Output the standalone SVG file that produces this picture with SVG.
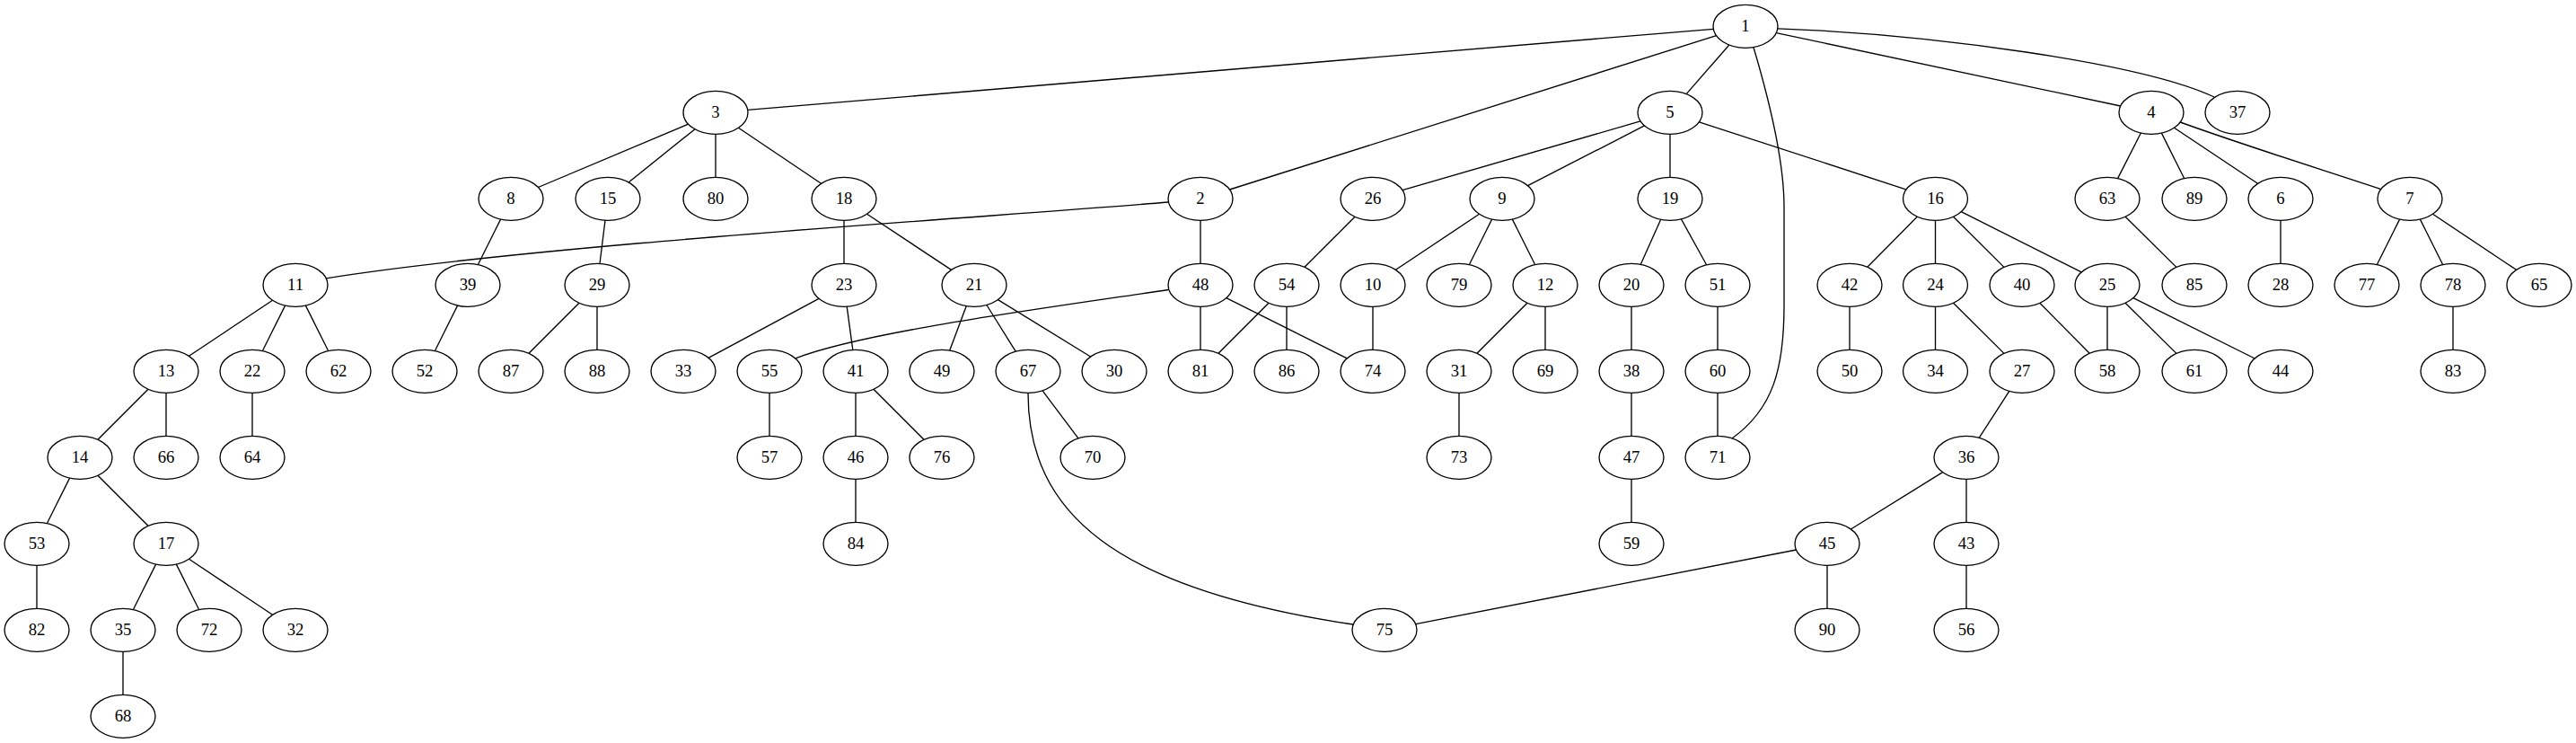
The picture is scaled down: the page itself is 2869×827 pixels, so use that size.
<svg xmlns="http://www.w3.org/2000/svg" width="2869" height="827" viewBox="0 0 2869 827">
<style>
.n ellipse{fill:none;stroke:#000;stroke-width:1.33}
.n text{font-family:"Liberation Serif","Times New Roman",serif;font-size:18.67px;text-anchor:middle;fill:#000}
.e path{fill:none;stroke:#000;stroke-width:1.33}
</style>
<rect width="2869" height="827" fill="#fff"/>
<g id="edges" class="e">
<path d="M1925.9,50 L1878.1,104.6"/>
<path d="M1978.3,36.6 L2361.7,118"/>
<path d="M1908.3,32.3 L832.7,122.3"/>
<path d="M1911.5,39.6 L1369.5,211"/>
<path d="M1979.8,31.8 C2150,38 2385,70 2466,108"/>
<path d="M1953,52.8 C1970,110 1987,180 1987,230 L1987,340 C1987,410 1975,455 1929,488"/>
<path d="M766.6,138.1 L599.4,208.5"/>
<path d="M774,143.7 L700.1,202.9"/>
<path d="M797,149.3 L797,197.3"/>
<path d="M822.4,142.3 L914.6,204.3"/>
<path d="M1827,134.9 L1562,211.7"/>
<path d="M1831.5,139.9 L1701.5,206.7"/>
<path d="M1860,149.3 L1860,197.3"/>
<path d="M1892.4,135.8 L2122.7,210.8"/>
<path d="M2384.4,148 L2358.6,198.6"/>
<path d="M2407.4,148.1 L2432.6,198.5"/>
<path d="M2421.5,142.3 L2514.5,204.3"/>
<path d="M2428.2,136 C2500,162 2590,190 2651.8,210.6"/>
<path d="M557.6,244.1 L532.4,294.5"/>
<path d="M674,245.2 L668,293.4"/>
<path d="M940,245.3 L940,293.3"/>
<path d="M965.6,238.2 L1059.5,300.4"/>
<path d="M1301.2,225 C1100,242 600,272 363,309.8"/>
<path d="M1337,245.3 L1337,293.3"/>
<path d="M1509,241.3 L1453,297.3"/>
<path d="M1647.5,238.3 L1554.5,300.3"/>
<path d="M1661.6,244.1 L1636.4,294.5"/>
<path d="M1684.4,244.1 L1709.6,294.5"/>
<path d="M1849.7,244.3 L1827.3,294.3"/>
<path d="M1872.4,243.8 L1900.6,294.8"/>
<path d="M2135.2,241.3 L2079.8,297.3"/>
<path d="M2155.5,245.3 L2155.5,293.3"/>
<path d="M2175.5,241.2 L2232,297.4"/>
<path d="M2184.3,235.7 L2318.2,302.9"/>
<path d="M2367.1,241.2 L2423.9,297.4"/>
<path d="M2540,245.3 L2540,293.3"/>
<path d="M2672.6,244.1 L2647.4,294.5"/>
<path d="M2695.4,244.1 L2720.6,294.5"/>
<path d="M2709.5,238.3 L2802.5,300.3"/>
<path d="M303.5,334.3 L210.5,396.3"/>
<path d="M317.6,340.1 L292.4,390.5"/>
<path d="M340.4,340.1 L365.6,390.5"/>
<path d="M509.6,340.1 L484.4,390.5"/>
<path d="M645,337.3 L589,393.3"/>
<path d="M665,341.3 L665,389.3"/>
<path d="M912,332.3 L789,398.3"/>
<path d="M943.2,341.2 L949.8,389.4"/>
<path d="M1076.3,340.6 L1057.7,390"/>
<path d="M1098.9,339.5 L1131.2,391.2"/>
<path d="M1111.5,333.6 L1214.6,397"/>
<path d="M1301.5,322.5 C1150,345 960,370 886,398.8"/>
<path d="M1337,341.3 L1337,389.3"/>
<path d="M1365.8,331.7 L1500.2,398.9"/>
<path d="M1413,337.3 L1357,393.3"/>
<path d="M1433,341.3 L1433,389.3"/>
<path d="M1529,341.3 L1529,389.3"/>
<path d="M1701,337.3 L1645,393.3"/>
<path d="M1721,341.3 L1721,389.3"/>
<path d="M1817,341.3 L1817,389.3"/>
<path d="M1913,341.3 L1913,389.3"/>
<path d="M2060,341.3 L2060,389.3"/>
<path d="M2155.5,341.3 L2155.5,389.3"/>
<path d="M2175.5,337.2 L2232,393.4"/>
<path d="M2271.8,337.3 L2327.2,393.3"/>
<path d="M2347,341.3 L2347,389.3"/>
<path d="M2367.1,337.2 L2423.9,393.4"/>
<path d="M2375.9,331.7 L2511.2,399"/>
<path d="M2732,341.3 L2732,389.3"/>
<path d="M165,433.3 L109,489.3"/>
<path d="M185,437.3 L185,485.3"/>
<path d="M281,437.3 L281,485.3"/>
<path d="M857,437.3 L857,485.3"/>
<path d="M953,437.3 L953,485.3"/>
<path d="M973,433.3 L1029,489.3"/>
<path d="M1161.1,434.8 L1200.9,487.8"/>
<path d="M1145,437.3 C1145,570 1240,655 1507,695"/>
<path d="M1625,437.3 L1625,485.3"/>
<path d="M1817,437.3 L1817,485.3"/>
<path d="M1913,437.3 L1913,485.3"/>
<path d="M2237.8,435.3 L2204.2,487.3"/>
<path d="M77.6,532.1 L52.4,582.5"/>
<path d="M109,529.3 L165,585.3"/>
<path d="M953,533.3 L953,581.3"/>
<path d="M1817,533.3 L1817,581.3"/>
<path d="M2163.6,525.6 L2061.4,589"/>
<path d="M2190,533.3 L2190,581.3"/>
<path d="M41,629.3 L41,677.3"/>
<path d="M173.6,628.1 L148.4,678.5"/>
<path d="M196.4,628.1 L221.6,678.5"/>
<path d="M210.5,622.3 L303.5,684.3"/>
<path d="M2000.5,612 L1576.6,694.6"/>
<path d="M2035,629.3 L2035,677.3"/>
<path d="M2190,629.3 L2190,677.3"/>
<path d="M137,725.3 L137,773.3"/>
</g>
<g id="n1" class="n"><ellipse cx="1944" cy="29.3" rx="36" ry="24"/><text x="1944" y="35.3">1</text></g>
<g id="n3" class="n"><ellipse cx="797" cy="125.3" rx="36" ry="24"/><text x="797" y="131.3">3</text></g>
<g id="n5" class="n"><ellipse cx="1860" cy="125.3" rx="36" ry="24"/><text x="1860" y="131.3">5</text></g>
<g id="n4" class="n"><ellipse cx="2396" cy="125.3" rx="36" ry="24"/><text x="2396" y="131.3">4</text></g>
<g id="n37" class="n"><ellipse cx="2492" cy="125.3" rx="36" ry="24"/><text x="2492" y="131.3">37</text></g>
<g id="n8" class="n"><ellipse cx="569" cy="221.3" rx="36" ry="24"/><text x="569" y="227.3">8</text></g>
<g id="n15" class="n"><ellipse cx="677" cy="221.3" rx="36" ry="24"/><text x="677" y="227.3">15</text></g>
<g id="n80" class="n"><ellipse cx="797" cy="221.3" rx="36" ry="24"/><text x="797" y="227.3">80</text></g>
<g id="n18" class="n"><ellipse cx="940" cy="221.3" rx="36" ry="24"/><text x="940" y="227.3">18</text></g>
<g id="n2" class="n"><ellipse cx="1337" cy="221.3" rx="36" ry="24"/><text x="1337" y="227.3">2</text></g>
<g id="n26" class="n"><ellipse cx="1529" cy="221.3" rx="36" ry="24"/><text x="1529" y="227.3">26</text></g>
<g id="n9" class="n"><ellipse cx="1673" cy="221.3" rx="36" ry="24"/><text x="1673" y="227.3">9</text></g>
<g id="n19" class="n"><ellipse cx="1860" cy="221.3" rx="36" ry="24"/><text x="1860" y="227.3">19</text></g>
<g id="n16" class="n"><ellipse cx="2155.5" cy="221.3" rx="36" ry="24"/><text x="2155.5" y="227.3">16</text></g>
<g id="n63" class="n"><ellipse cx="2347" cy="221.3" rx="36" ry="24"/><text x="2347" y="227.3">63</text></g>
<g id="n89" class="n"><ellipse cx="2444" cy="221.3" rx="36" ry="24"/><text x="2444" y="227.3">89</text></g>
<g id="n6" class="n"><ellipse cx="2540" cy="221.3" rx="36" ry="24"/><text x="2540" y="227.3">6</text></g>
<g id="n7" class="n"><ellipse cx="2684" cy="221.3" rx="36" ry="24"/><text x="2684" y="227.3">7</text></g>
<g id="n11" class="n"><ellipse cx="329" cy="317.3" rx="36" ry="24"/><text x="329" y="323.3">11</text></g>
<g id="n39" class="n"><ellipse cx="521" cy="317.3" rx="36" ry="24"/><text x="521" y="323.3">39</text></g>
<g id="n29" class="n"><ellipse cx="665" cy="317.3" rx="36" ry="24"/><text x="665" y="323.3">29</text></g>
<g id="n23" class="n"><ellipse cx="940" cy="317.3" rx="36" ry="24"/><text x="940" y="323.3">23</text></g>
<g id="n21" class="n"><ellipse cx="1085" cy="317.3" rx="36" ry="24"/><text x="1085" y="323.3">21</text></g>
<g id="n48" class="n"><ellipse cx="1337" cy="317.3" rx="36" ry="24"/><text x="1337" y="323.3">48</text></g>
<g id="n54" class="n"><ellipse cx="1433" cy="317.3" rx="36" ry="24"/><text x="1433" y="323.3">54</text></g>
<g id="n10" class="n"><ellipse cx="1529" cy="317.3" rx="36" ry="24"/><text x="1529" y="323.3">10</text></g>
<g id="n79" class="n"><ellipse cx="1625" cy="317.3" rx="36" ry="24"/><text x="1625" y="323.3">79</text></g>
<g id="n12" class="n"><ellipse cx="1721" cy="317.3" rx="36" ry="24"/><text x="1721" y="323.3">12</text></g>
<g id="n20" class="n"><ellipse cx="1817" cy="317.3" rx="36" ry="24"/><text x="1817" y="323.3">20</text></g>
<g id="n51" class="n"><ellipse cx="1913" cy="317.3" rx="36" ry="24"/><text x="1913" y="323.3">51</text></g>
<g id="n42" class="n"><ellipse cx="2060" cy="317.3" rx="36" ry="24"/><text x="2060" y="323.3">42</text></g>
<g id="n24" class="n"><ellipse cx="2155.5" cy="317.3" rx="36" ry="24"/><text x="2155.5" y="323.3">24</text></g>
<g id="n40" class="n"><ellipse cx="2252" cy="317.3" rx="36" ry="24"/><text x="2252" y="323.3">40</text></g>
<g id="n25" class="n"><ellipse cx="2347" cy="317.3" rx="36" ry="24"/><text x="2347" y="323.3">25</text></g>
<g id="n85" class="n"><ellipse cx="2444" cy="317.3" rx="36" ry="24"/><text x="2444" y="323.3">85</text></g>
<g id="n28" class="n"><ellipse cx="2540" cy="317.3" rx="36" ry="24"/><text x="2540" y="323.3">28</text></g>
<g id="n77" class="n"><ellipse cx="2636" cy="317.3" rx="36" ry="24"/><text x="2636" y="323.3">77</text></g>
<g id="n78" class="n"><ellipse cx="2732" cy="317.3" rx="36" ry="24"/><text x="2732" y="323.3">78</text></g>
<g id="n65" class="n"><ellipse cx="2828" cy="317.3" rx="36" ry="24"/><text x="2828" y="323.3">65</text></g>
<g id="n13" class="n"><ellipse cx="185" cy="413.3" rx="36" ry="24"/><text x="185" y="419.3">13</text></g>
<g id="n22" class="n"><ellipse cx="281" cy="413.3" rx="36" ry="24"/><text x="281" y="419.3">22</text></g>
<g id="n62" class="n"><ellipse cx="377" cy="413.3" rx="36" ry="24"/><text x="377" y="419.3">62</text></g>
<g id="n52" class="n"><ellipse cx="473" cy="413.3" rx="36" ry="24"/><text x="473" y="419.3">52</text></g>
<g id="n87" class="n"><ellipse cx="569" cy="413.3" rx="36" ry="24"/><text x="569" y="419.3">87</text></g>
<g id="n88" class="n"><ellipse cx="665" cy="413.3" rx="36" ry="24"/><text x="665" y="419.3">88</text></g>
<g id="n33" class="n"><ellipse cx="761" cy="413.3" rx="36" ry="24"/><text x="761" y="419.3">33</text></g>
<g id="n55" class="n"><ellipse cx="857" cy="413.3" rx="36" ry="24"/><text x="857" y="419.3">55</text></g>
<g id="n41" class="n"><ellipse cx="953" cy="413.3" rx="36" ry="24"/><text x="953" y="419.3">41</text></g>
<g id="n49" class="n"><ellipse cx="1049" cy="413.3" rx="36" ry="24"/><text x="1049" y="419.3">49</text></g>
<g id="n67" class="n"><ellipse cx="1145" cy="413.3" rx="36" ry="24"/><text x="1145" y="419.3">67</text></g>
<g id="n30" class="n"><ellipse cx="1241" cy="413.3" rx="36" ry="24"/><text x="1241" y="419.3">30</text></g>
<g id="n81" class="n"><ellipse cx="1337" cy="413.3" rx="36" ry="24"/><text x="1337" y="419.3">81</text></g>
<g id="n86" class="n"><ellipse cx="1433" cy="413.3" rx="36" ry="24"/><text x="1433" y="419.3">86</text></g>
<g id="n74" class="n"><ellipse cx="1529" cy="413.3" rx="36" ry="24"/><text x="1529" y="419.3">74</text></g>
<g id="n31" class="n"><ellipse cx="1625" cy="413.3" rx="36" ry="24"/><text x="1625" y="419.3">31</text></g>
<g id="n69" class="n"><ellipse cx="1721" cy="413.3" rx="36" ry="24"/><text x="1721" y="419.3">69</text></g>
<g id="n38" class="n"><ellipse cx="1817" cy="413.3" rx="36" ry="24"/><text x="1817" y="419.3">38</text></g>
<g id="n60" class="n"><ellipse cx="1913" cy="413.3" rx="36" ry="24"/><text x="1913" y="419.3">60</text></g>
<g id="n50" class="n"><ellipse cx="2060" cy="413.3" rx="36" ry="24"/><text x="2060" y="419.3">50</text></g>
<g id="n34" class="n"><ellipse cx="2155.5" cy="413.3" rx="36" ry="24"/><text x="2155.5" y="419.3">34</text></g>
<g id="n27" class="n"><ellipse cx="2252" cy="413.3" rx="36" ry="24"/><text x="2252" y="419.3">27</text></g>
<g id="n58" class="n"><ellipse cx="2347" cy="413.3" rx="36" ry="24"/><text x="2347" y="419.3">58</text></g>
<g id="n61" class="n"><ellipse cx="2444" cy="413.3" rx="36" ry="24"/><text x="2444" y="419.3">61</text></g>
<g id="n44" class="n"><ellipse cx="2540" cy="413.3" rx="36" ry="24"/><text x="2540" y="419.3">44</text></g>
<g id="n83" class="n"><ellipse cx="2732" cy="413.3" rx="36" ry="24"/><text x="2732" y="419.3">83</text></g>
<g id="n14" class="n"><ellipse cx="89" cy="509.3" rx="36" ry="24"/><text x="89" y="515.3">14</text></g>
<g id="n66" class="n"><ellipse cx="185" cy="509.3" rx="36" ry="24"/><text x="185" y="515.3">66</text></g>
<g id="n64" class="n"><ellipse cx="281" cy="509.3" rx="36" ry="24"/><text x="281" y="515.3">64</text></g>
<g id="n57" class="n"><ellipse cx="857" cy="509.3" rx="36" ry="24"/><text x="857" y="515.3">57</text></g>
<g id="n46" class="n"><ellipse cx="953" cy="509.3" rx="36" ry="24"/><text x="953" y="515.3">46</text></g>
<g id="n76" class="n"><ellipse cx="1049" cy="509.3" rx="36" ry="24"/><text x="1049" y="515.3">76</text></g>
<g id="n70" class="n"><ellipse cx="1217" cy="509.3" rx="36" ry="24"/><text x="1217" y="515.3">70</text></g>
<g id="n73" class="n"><ellipse cx="1625" cy="509.3" rx="36" ry="24"/><text x="1625" y="515.3">73</text></g>
<g id="n47" class="n"><ellipse cx="1817" cy="509.3" rx="36" ry="24"/><text x="1817" y="515.3">47</text></g>
<g id="n71" class="n"><ellipse cx="1913" cy="509.3" rx="36" ry="24"/><text x="1913" y="515.3">71</text></g>
<g id="n36" class="n"><ellipse cx="2190" cy="509.3" rx="36" ry="24"/><text x="2190" y="515.3">36</text></g>
<g id="n53" class="n"><ellipse cx="41" cy="605.3" rx="36" ry="24"/><text x="41" y="611.3">53</text></g>
<g id="n17" class="n"><ellipse cx="185" cy="605.3" rx="36" ry="24"/><text x="185" y="611.3">17</text></g>
<g id="n84" class="n"><ellipse cx="953" cy="605.3" rx="36" ry="24"/><text x="953" y="611.3">84</text></g>
<g id="n59" class="n"><ellipse cx="1817" cy="605.3" rx="36" ry="24"/><text x="1817" y="611.3">59</text></g>
<g id="n45" class="n"><ellipse cx="2035" cy="605.3" rx="36" ry="24"/><text x="2035" y="611.3">45</text></g>
<g id="n43" class="n"><ellipse cx="2190" cy="605.3" rx="36" ry="24"/><text x="2190" y="611.3">43</text></g>
<g id="n82" class="n"><ellipse cx="41" cy="701.3" rx="36" ry="24"/><text x="41" y="707.3">82</text></g>
<g id="n35" class="n"><ellipse cx="137" cy="701.3" rx="36" ry="24"/><text x="137" y="707.3">35</text></g>
<g id="n72" class="n"><ellipse cx="233" cy="701.3" rx="36" ry="24"/><text x="233" y="707.3">72</text></g>
<g id="n32" class="n"><ellipse cx="329" cy="701.3" rx="36" ry="24"/><text x="329" y="707.3">32</text></g>
<g id="n75" class="n"><ellipse cx="1542" cy="701.3" rx="36" ry="24"/><text x="1542" y="707.3">75</text></g>
<g id="n90" class="n"><ellipse cx="2035" cy="701.3" rx="36" ry="24"/><text x="2035" y="707.3">90</text></g>
<g id="n56" class="n"><ellipse cx="2190" cy="701.3" rx="36" ry="24"/><text x="2190" y="707.3">56</text></g>
<g id="n68" class="n"><ellipse cx="137" cy="797.3" rx="36" ry="24"/><text x="137" y="803.3">68</text></g>
</svg>
